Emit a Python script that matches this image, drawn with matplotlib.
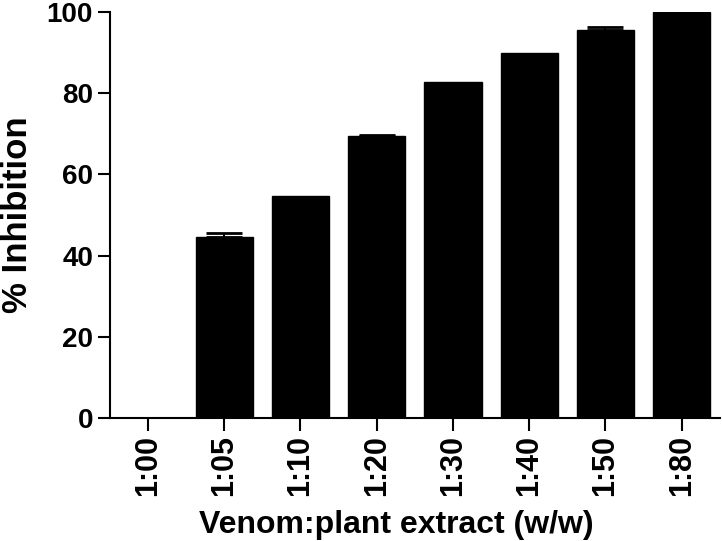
import numpy as np
import matplotlib
matplotlib.use("Agg")
import matplotlib.pyplot as plt

# Data
ratios = ["1:00", "1:05", "1:10", "1:20", "1:30", "1:40", "1:50", "1:80"]
inhibition = [0, 44.5, 54.6, 69.4, 82.7, 90.0, 95.6, 100.0]
sem = [0, 1.1, 0, 0.4, 0, 0, 0.6, 0]

plt.rcParams['font.family'] = ['Liberation Sans', 'DejaVu Sans']
plt.rcParams['font.weight'] = 'bold'

fig = plt.figure(figsize=(7.22, 5.41), dpi=100)
ax = fig.add_axes([0.152, 0.227, 0.845, 0.751])

x = np.arange(len(ratios))
ax.bar(x, inhibition, width=0.75, color='black', edgecolor='black', zorder=2)

# only upper error bars, and only where there is an error
has_err = np.array(sem) > 0
ax.errorbar(x[has_err], np.array(inhibition)[has_err],
            yerr=[np.zeros(has_err.sum()), np.array(sem)[has_err]], fmt='none',
            ecolor='black', elinewidth=1.5, capsize=13, capthick=2, zorder=1)

ax.set_xlim(-0.5, 7.5)
ax.set_ylim(0, 100)
ax.set_yticks([0, 20, 40, 60, 80, 100])
ax.set_xticks(x)
ax.set_xticklabels(ratios, rotation=90, fontsize=22, fontweight='bold')
for lab in ax.get_yticklabels():
    lab.set_fontsize(20)
    lab.set_fontweight('bold')

ax.spines['top'].set_visible(False)
ax.spines['right'].set_visible(False)
ax.spines['left'].set_linewidth(1.5)
ax.spines['bottom'].set_linewidth(1.5)
ax.tick_params(axis='both', length=9, width=1.5, pad=3)

ax.set_ylabel('% Inhibition', fontsize=25, fontweight='bold')
ax.yaxis.set_label_coords(-0.124, 0.5)
ax.set_xlabel('Venom:plant extract (w/w)', fontsize=23, fontweight='bold')
ax.xaxis.set_label_coords(0.47, -0.225)

fig.savefig('out.png', dpi=100)
